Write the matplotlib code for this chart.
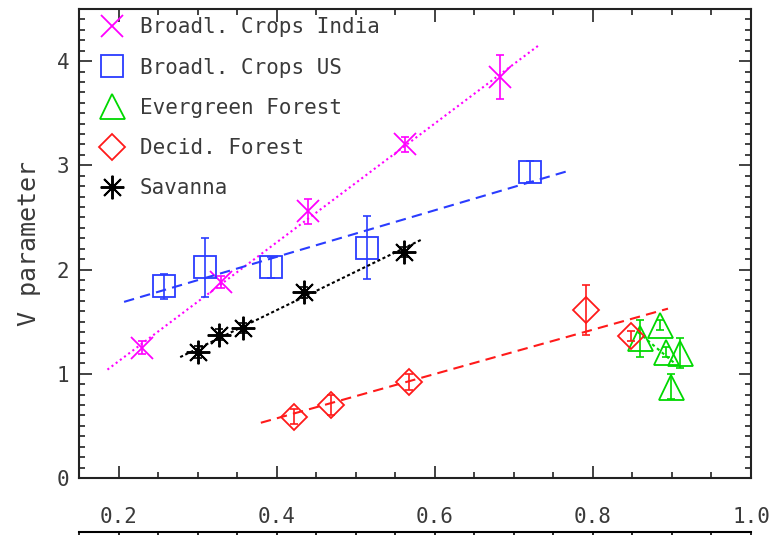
import matplotlib
matplotlib.use("Agg")
import matplotlib.pyplot as plt
from matplotlib.lines import Line2D
from matplotlib.ticker import MultipleLocator

plt.rcParams["font.family"] = ["DejaVu Sans Mono", "DejaVu Sans"]

# ---------------- data ----------------
labels = ["Broadl. Crops India", "Broadl. Crops US", "Evergreen Forest",
          "Decid. Forest", "Savanna"]

india_x = [0.230, 0.329, 0.440, 0.562, 0.683]
india_y = [1.25, 1.88, 2.56, 3.20, 3.85]
india_e = [0.06, 0.06, 0.12, 0.07, 0.21]
india_fit_x = [0.186, 0.733]
india_fit_y = [1.04, 4.16]

us_x = [0.257, 0.310, 0.393, 0.514, 0.720]
us_y = [1.84, 2.02, 2.02, 2.21, 2.94]
us_e = [0.12, 0.28, 0.10, 0.30, 0.10]
us_fit_x = [0.207, 0.766]
us_fit_y = [1.69, 2.94]

ever_x = [0.860, 0.885, 0.893, 0.910, 0.899]
ever_y = [1.34, 1.47, 1.21, 1.20, 0.875]
ever_e = [0.18, 0.05, 0.05, 0.14, 0.12]
ever_fit_x = [0.857, 0.902]
ever_fit_y = [1.40, 1.11]

decid_x = [0.422, 0.469, 0.567, 0.791, 0.848]
decid_y = [0.59, 0.70, 0.92, 1.61, 1.36]
decid_e = [0.07, 0.10, 0.08, 0.24, 0.05]
decid_fit_x = [0.380, 0.895]
decid_fit_y = [0.53, 1.625]

sav_x = [0.301, 0.327, 0.357, 0.435, 0.561]
sav_y = [1.21, 1.375, 1.44, 1.78, 2.17]
sav_e = [0.06, 0.05, 0.05, 0.05, 0.05]
sav_fit_x = [0.278, 0.584]
sav_fit_y = [1.16, 2.29]

x_ticks = [0.2, 0.4, 0.6, 0.8, 1.0]
x_ticklabels = ["0.2", "0.4", "0.6", "0.8", "1.0"]
y_ticks = [0, 1, 2, 3, 4]
y_ticklabels = ["0", "1", "2", "3", "4"]

# ---------------- figure ----------------
W, H = 769, 535
fig = plt.figure(figsize=(W / 100, H / 100), dpi=100)
ax = fig.add_axes([79 / W, 1 - 478 / H, (751 - 79) / W, (478 - 9) / H])

txtc = "#3a3a3a"
c_india = "#ff00ff"
c_us = "#2a3cff"
c_ever = "#00d800"
c_decid = "#ff1a1a"
c_sav = "black"

series = [
    (india_x, india_y, india_e, india_fit_x, india_fit_y, c_india, "x", 16, 1.3, (0, (1, 1.5))),
    (us_x, us_y, us_e, us_fit_x, us_fit_y, c_us, "s", 16, 1.3, (0, (5, 3))),
    (ever_x, ever_y, ever_e, ever_fit_x, ever_fit_y, c_ever, "^", 18, 1.3, (0, (1.5, 1.5))),
    (decid_x, decid_y, decid_e, decid_fit_x, decid_fit_y, c_decid, "D", 13, 1.3, (0, (5, 3))),
    (sav_x, sav_y, sav_e, sav_fit_x, sav_fit_y, c_sav, (8, 2, 0), 17, 1.4, (0, (1.5, 1.2))),
]

handles = []
for (xs, ys, es, fx, fy, col, mk, ms, mew, ls), lab in zip(series, labels):
    ax.plot(fx, fy, color=col, linestyle=ls, linewidth=1.5)
    ax.errorbar(xs, ys, yerr=es, fmt="none", ecolor=col, elinewidth=1.2,
                capsize=3, capthick=1.2)
    ax.plot(xs, ys, linestyle="none", marker=mk, markersize=ms,
            markerfacecolor="none", markeredgecolor=col, markeredgewidth=mew)
    handles.append(Line2D([], [], linestyle="none", marker=mk, markersize=ms,
                          markerfacecolor="none", markeredgecolor=col,
                          markeredgewidth=mew, label=lab))

leg = ax.legend(handles=handles, loc="upper left", frameon=False,
                fontsize=15, labelspacing=0.97, handletextpad=0.75,
                borderaxespad=0.0, bbox_to_anchor=(0.018, 1.0),
                handlelength=1.2, labelcolor=txtc)

ax.set_xlim(0.15, 1.0)
ax.set_ylim(0.0, 4.5)
ax.set_xticks(x_ticks)
ax.set_xticklabels(x_ticklabels)
ax.set_yticks(y_ticks)
ax.set_yticklabels(y_ticklabels)
ax.xaxis.set_minor_locator(MultipleLocator(0.05))
ax.yaxis.set_minor_locator(MultipleLocator(0.1))

ax.tick_params(axis="both", which="both", direction="in", top=True, right=True,
               colors="#222222", labelcolor=txtc, labelsize=15)
ax.tick_params(axis="both", which="major", length=9, width=1.2)
ax.tick_params(axis="both", which="minor", length=4.5, width=1.2)
ax.tick_params(axis="x", which="major", pad=21)
ax.tick_params(axis="y", which="major", pad=7)
for s in ax.spines.values():
    s.set_linewidth(1.5)
    s.set_color("#222222")

ax.set_ylabel("V parameter", fontsize=18, color=txtc, labelpad=11)

# top spine of the panel below (partly visible at the bottom edge)
ax2 = fig.add_axes([79 / W, -0.05, (751 - 79) / W, 0.05 + (535 - 532) / H])
ax2.set_xlim(0.15, 1.0)
ax2.set_xticks(x_ticks)
ax2.xaxis.set_minor_locator(MultipleLocator(0.05))
ax2.set_yticks([])
for k in ["left", "right", "bottom"]:
    ax2.spines[k].set_visible(False)
ax2.spines["top"].set_linewidth(1.5)
ax2.tick_params(axis="x", which="both", direction="in", top=True, bottom=False,
                labelbottom=False, width=1.2)
ax2.tick_params(axis="x", which="major", length=9)
ax2.tick_params(axis="x", which="minor", length=4.5)
ax2.patch.set_visible(False)

fig.savefig("out.png", dpi=100)
